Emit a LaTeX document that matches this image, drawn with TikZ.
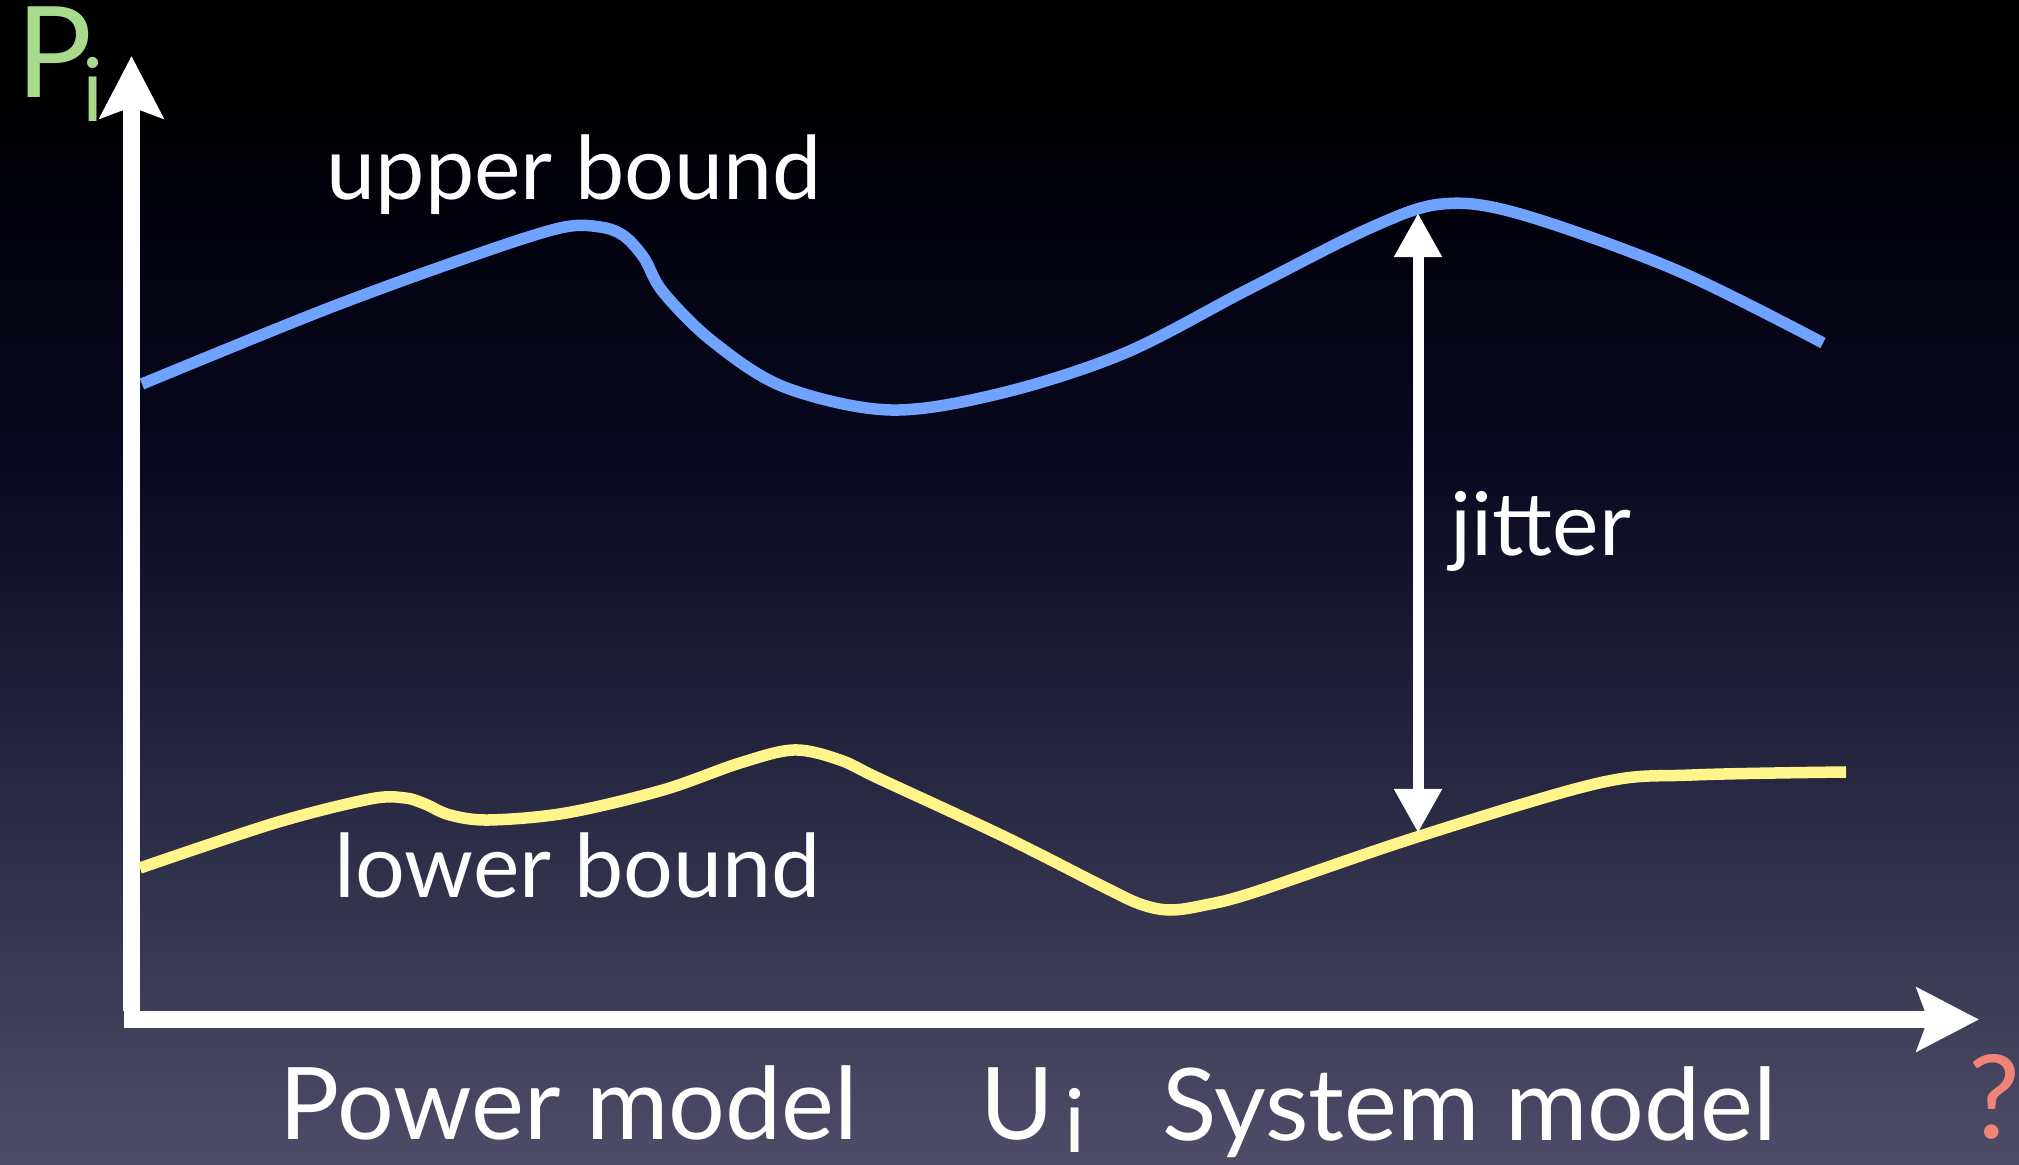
\documentclass[tikz,border=0pt]{standalone}
\usepackage{fontspec}
\setmainfont{Lato}
\usetikzlibrary{arrows.meta}
\definecolor{ubdblue}{HTML}{6FA3FF}
\definecolor{lbdyellow}{HTML}{FFF58A}
\definecolor{pigreen}{HTML}{A8DC8C}
\definecolor{qsalmon}{HTML}{F08478}
\definecolor{bgA}{HTML}{4E4C68}
\definecolor{bgB}{HTML}{3D3C57}
\definecolor{bgC}{HTML}{252540}
\definecolor{bgD}{HTML}{090920}
\definecolor{bgE}{HTML}{02020F}
\pgfdeclareverticalshading{slidebg}{100bp}{color(0bp)=(bgA); color(25bp)=(bgA);
  color(32.5bp)=(bgB); color(42.5bp)=(bgC); color(55bp)=(bgD); color(65bp)=(bgE);
  color(71bp)=(black); color(100bp)=(black)}
\newcommand{\fs}[1]{\fontsize{#1}{1.2\dimexpr#1pt\relax}\selectfont}

\begin{document}
\begin{tikzpicture}[
  x=0.01cm, y=-0.01cm,
  axis/.style={white, line width=1.6mm,
               -{Stealth[length=6.2mm, width=6.3mm, inset=1.1mm]}},
  ubd/.style={ubdblue, line width=1.15mm, line join=round},
  lbd/.style={lbdyellow, line width=1.15mm, line join=round},
  arr/.style={white, line width=1.1mm, >={Triangle[length=4.4mm, width=4.5mm]}, <->},
  lab/.style={text=white, inner sep=0pt, anchor=base west, font=\fs{25}},
  big/.style={lab, font=\fs{28.5}},
]
\useasboundingbox (0,0) rectangle (2019,1165);
\shade[shading=slidebg] (0,0) rectangle (2019,1165);

\coordinate (ybot) at (131.5,1011);
\coordinate (ytop) at (131.5,56);
\coordinate (xlft) at (124,1019.5);
\coordinate (xrgt) at (1979,1019.5);
\draw[axis] (ybot) -- (ytop);
\draw[axis] (xlft) -- (xrgt);

% the two bounds
\draw[ubd] plot[smooth, tension=0.55] coordinates {
  (142,384) (324,310) (469,257) (560,228) (600,227) (624,236) (644,258)
  (663,292) (712,341) (784,387) (890,410) (1002,393) (1125,353) (1247,290)
  (1370,228) (1442,204) (1520,214) (1676,270) (1823,343)};
\draw[lbd] plot[smooth, tension=0.55] coordinates {
  (140,868) (275,823) (370,799) (405,798) (425,804) (450,815) (489,820)
  (566,813) (663,790) (740,763) (794,750) (840,760) (880,779) (1005,837)
  (1100,885) (1140,904) (1170,910) (1205,905) (1255,892) (1417,837)
  (1599,783) (1692,775) (1846,772)};

\coordinate (jtop) at (1418,213);
\coordinate (jbot) at (1418,833);
\draw[arr] (jbot) -- (jtop);

\node[lab] (upper) at (326,200) {upper bound};
\node[lab] (lower) at (334,898) {lower bound};
\node[lab] (jit) at (1450,556) {jitter};

\node[lab, text=pigreen, font=\fs{36}] (pi) at (16,98)
  {P\kern-3pt\raisebox{-6.8pt}{\fs{25}i}};
\node[big] (power) at (279,1139) {Power model};
\node[big] (ui) at (980,1139) {U\kern3pt\raisebox{-3.7pt}{\fs{25}i}};
\node[big] (system) at (1162,1140) {System model};
\node[lab, text=qsalmon, font=\fs{33}] (quest) at (1968,1138) {?};
\end{tikzpicture}
\end{document}
